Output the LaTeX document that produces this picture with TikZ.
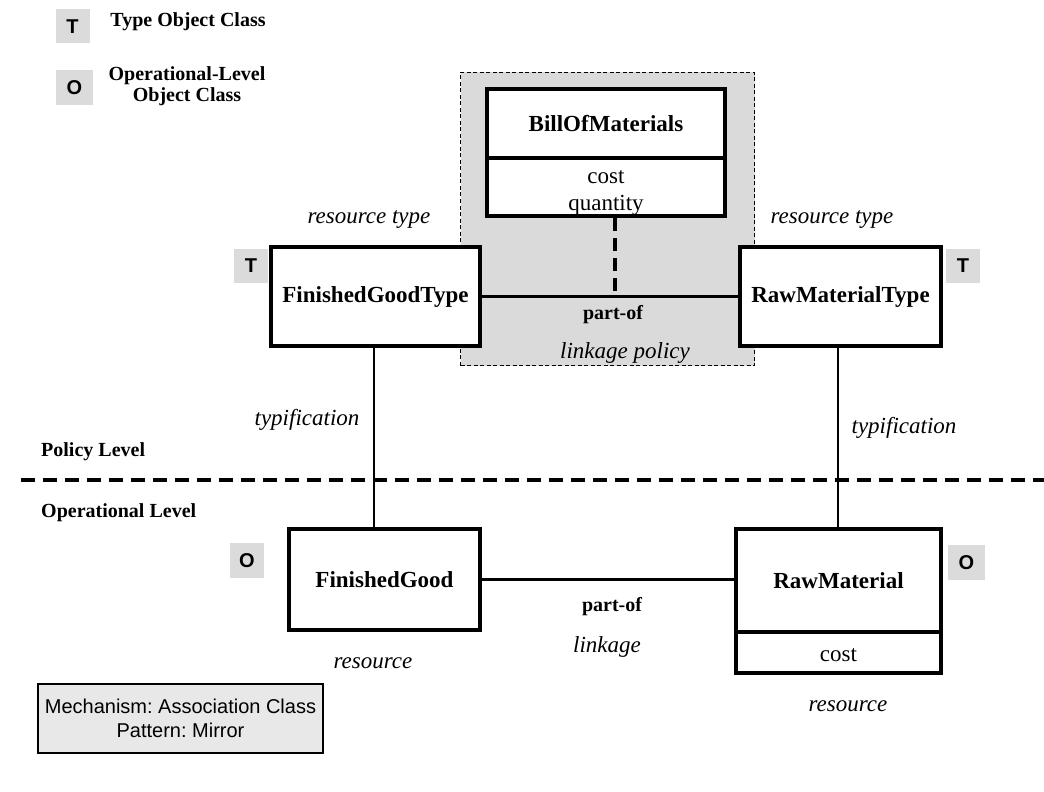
\documentclass[tikz,border=0pt]{standalone}
\usepackage{fontspec}
\setmainfont{Liberation Serif}
\setsansfont{Liberation Sans}
\usetikzlibrary{calc}
\definecolor{tagGray}{gray}{0.86}
\definecolor{zoneGray}{gray}{0.855}
\definecolor{noteGray}{gray}{0.91}
\frenchspacing
\begin{document}
\begin{tikzpicture}[x=1pt,y=-1pt,
  classbox/.style={draw, line width=4pt, fill=white, inner sep=0pt,
    font=\fontsize{23}{26}\selectfont\bfseries},
  attrbox/.style={draw, line width=4pt, fill=white, inner sep=0pt, align=center,
    font=\fontsize{23}{27}\selectfont},
  tag/.style={fill=tagGray, inner sep=0pt, minimum width=34pt, minimum height=34pt,
    font=\fontsize{20}{24}\selectfont\sffamily\bfseries},
  lbl/.style={font=\fontsize{23}{26}\selectfont\itshape},
  boldlbl/.style={font=\fontsize{20}{24}\selectfont\bfseries},
  lvl/.style={font=\fontsize{20}{24}\selectfont\bfseries, anchor=west, inner sep=0pt},
  link/.style={line width=2.6pt},
  assocdash/.style={line width=4.5pt, dash pattern=on 13pt off 7pt},
  levelline/.style={line width=4pt, dash pattern=on 14pt off 8pt},
]
\useasboundingbox (0,0) rectangle (1044,792);

% legend
\node[tag] (legT) at (72.5,26.5) {T};
\node[boldlbl] (legTtext) at (188,22) {Type Object Class};
\node[tag, minimum width=37pt] (legO) at (74.5,87.5) {O};
\node[boldlbl, align=center] (legOtext) at (187,86) {Operational-Level\\[-3pt]Object Class};

% linkage policy zone
\node[draw, fill=zoneGray, line width=1.6pt, dash pattern=on 4pt off 2.5pt,
      minimum width=294pt, minimum height=293pt, inner sep=0pt] (zone) at (607.5,219) {};

% policy-level classes
\node[classbox, minimum width=209pt, minimum height=99pt] (fgt) at (375.5,296.5) {FinishedGoodType};
\node[classbox, minimum width=201pt, minimum height=99pt] (rmt) at (840.5,296.5) {RawMaterialType};
\node[classbox, minimum width=238pt, minimum height=69pt] (bom) at (606,123.5) {BillOfMaterials};
\node[attrbox, minimum width=238pt, minimum height=58pt] (bomattr) at (606,187) {};
\node[attrbox, draw=none, fill=none] (bomattrtext) at (606,193) {cost\\quantity};

\node[tag] (tagfgt) at (251,266) {T};
\node[tag] (tagrmt) at (963,266) {T};

% operational-level classes
\node[classbox, minimum width=191pt, minimum height=101pt] (fg) at (384.5,579.5) {FinishedGood};
\node[classbox, minimum width=205pt, minimum height=103pt] (rm) at (838.5,580.5) {RawMaterial};
\node[attrbox, minimum width=205pt, minimum height=41pt] (rmattr) at (838.5,652.5) {};
\node[attrbox, draw=none, fill=none] (rmattrtext) at (838.5,655) {cost};

\node[tag, minimum height=35pt] (tagfg) at (247,560.5) {O};
\node[tag, minimum width=37pt, minimum height=35pt] (tagrm) at (966.5,562.5) {O};

% connectors
\coordinate (assocmid) at (615,296.5);
\draw[link] (fgt.east) -- (rmt.west);
\draw[assocdash] (bomattr.south -| assocmid) -- (assocmid);
\coordinate (tyL) at (374,0);
\coordinate (tyR) at (838,0);
\draw[link] (fgt.south -| tyL) -- (fg.north -| tyL);
\draw[link] (rmt.south -| tyR) -- (rm.north -| tyR);
\draw[link] (fg.east) -- (fg.east -| rm.west);

% level separator
\coordinate (sepL) at (21,480);
\coordinate (sepR) at (1044,480);
\draw[levelline] (sepL) -- (sepR);
\node[lvl] (policylvl) at (41,452) {Policy Level};
\node[lvl] (oplvl) at (41,513) {Operational Level};

% labels
\node[lbl] (rtL) at (369,220) {resource type};
\node[lbl] (rtR) at (832,220) {resource type};
\node[boldlbl] (partofT) at (613,315) {part-of};
\node[lbl] (linkpol) at (625,353) {linkage policy};
\node[lbl] (typL) at (307,420) {typification};
\node[lbl] (typR) at (904,428) {typification};
\node[boldlbl] (partofO) at (612,607) {part-of};
\node[lbl] (linkO) at (607,647) {linkage};
\node[lbl] (resL) at (373,663) {resource};
\node[lbl] (resR) at (848,706) {resource};

% note
\node[draw, line width=2pt, fill=noteGray, minimum width=285pt, minimum height=69pt,
      align=center, font=\fontsize{20}{24}\selectfont\sffamily] (note) at (180.5,718.5)
      {Mechanism: Association Class\\Pattern: Mirror};
\end{tikzpicture}
\end{document}
